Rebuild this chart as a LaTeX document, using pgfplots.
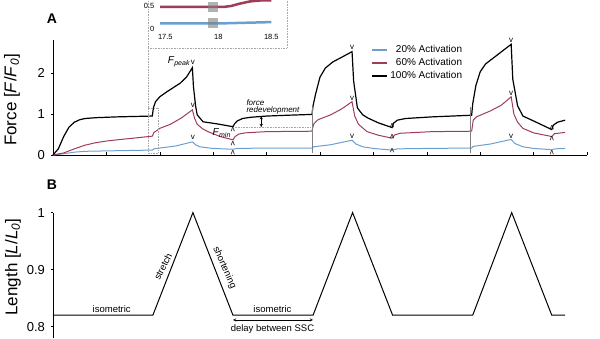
\documentclass[border=0pt]{standalone}
\usepackage{pgfplots}
\pgfplotsset{compat=1.18}
\usepackage{fontspec}
\setmainfont{Liberation Sans}
\definecolor{cblue}{HTML}{6C9FCF}
\definecolor{cred}{HTML}{9E3D58}
\definecolor{frm}{HTML}{A8A8A8}
\begin{document}
\begin{tikzpicture}
\path[use as bounding box] (0pt,0pt) rectangle (600pt,338pt);
\clip (0pt,0pt) rectangle (600pt,338pt);

% ---------------- Panel A ----------------
\begin{axis}[at={(53pt,183pt)}, anchor=south west, scale only axis,
  width=534pt, height=114.8pt, xmin=0, xmax=100, ymin=0, ymax=2.8,
  axis lines=left, axis line style={-, line width=0.8pt},
  xtick={0,10,...,100}, xticklabels={}, ytick={0,1,2},
  tick align=outside, major tick length=2.5pt,
  tick style={line width=0.6pt, black},
  xtick style={yshift=2.5pt},
  yticklabel style={font=\fontsize{13}{13}\selectfont, xshift=-2pt},
  /pgf/number format/assume math mode=true, clip=false,
  legend style={at={(0.594,0.98)}, anchor=north west, draw=none, fill=none,
    font=\fontsize{10}{11}\selectfont, inner sep=1pt, row sep=0pt},
  legend cell align=right,
  legend image code/.code={\draw[#1, line width=2pt] (0pt,0pt) -- (15pt,0pt);}]

\addplot[cblue, line width=1pt] coordinates {
(0,0)(2,0.03)(4,0.07)(6,0.09)(10,0.1)(18.6,0.12)(18.9,0.15)(20,0.17)(23,0.22)(26.1,0.32)
(26.7,0.25)(27.5,0.2)(30,0.16)(33.7,0.14)(34.5,0.16)(40,0.17)(48.5,0.17)(48.8,0.2)(52,0.25)
(56,0.36)(56.7,0.27)(58,0.2)(60,0.16)(63.5,0.12)(64.5,0.15)(70,0.16)(78.4,0.17)(78.7,0.21)
(82,0.27)(85.8,0.38)(86.5,0.28)(88,0.2)(90,0.16)(93.4,0.13)(94,0.15)(95.9,0.16)};
\addlegendentry{20\% Activation}

\addplot[cred, line width=1pt] coordinates {
(0,0)(2,0.05)(4,0.15)(6,0.24)(8,0.3)(10,0.34)(12,0.37)(15,0.41)(18.6,0.46)(18.9,0.55)
(19.5,0.6)(20,0.65)(22,0.75)(24,0.9)(26.1,1.1)(26.5,0.9)(27,0.75)(28,0.64)(29,0.57)(31.3,0.45)
(33.7,0.37)(34.1,0.45)(34.8,0.51)(36,0.54)(40,0.57)(48.5,0.58)(48.8,0.75)(49.5,0.85)(50,0.88)
(52,0.98)(54,1.12)(56,1.3)(56.5,0.95)(57.2,0.75)(58.8,0.57)(61,0.48)(63.5,0.41)(64,0.49)
(65,0.53)(71,0.57)(78.4,0.58)(78.7,0.85)(79.3,0.93)(80,0.97)(82,1.08)(84,1.22)(85.8,1.42)
(86.3,1.0)(87,0.8)(88,0.65)(90,0.54)(93.4,0.45)(93.9,0.52)(95.9,0.55)};
\addlegendentry{60\% Activation}

\addplot[black, line width=1.2pt] coordinates {
(0,0)(1,0.15)(2,0.45)(3,0.68)(4,0.8)(5,0.86)(6,0.89)(8,0.91)(12,0.93)(18.6,0.95)(18.8,1.15)
(19.2,1.3)(20,1.42)(21.3,1.54)(23.8,1.75)(25,1.9)(26.1,2.13)(26.3,1.67)(26.7,1.2)(27,0.98)
(28.1,0.81)(30.7,0.76)(33.7,0.69)(34,0.76)(34.5,0.83)(35.5,0.89)(37,0.92)(40,0.95)(44,0.97)
(48.5,0.99)(48.7,1.2)(49.2,1.5)(50,1.9)(51,2.12)(52.4,2.27)(54,2.38)(56,2.52)(56.3,1.8)
(57,1.15)(58,0.98)(59,0.9)(61,0.78)(63.5,0.67)(63.8,0.78)(64.5,0.85)(66,0.89)(71,0.93)
(78.4,0.97)(78.6,1.25)(79.2,1.7)(80,2.03)(81,2.22)(82.4,2.36)(84,2.52)(85.8,2.7)(86.1,1.85)
(87,1.2)(88,0.95)(90,0.83)(93.4,0.62)(93.7,0.73)(94.5,0.8)(95.9,0.85)};
\addlegendentry{100\% Activation}

% peak / min markers
\begin{scope}[every node/.style={font=\fontsize{8}{8}\selectfont, inner sep=0pt}]
\node at (axis cs:26.2,2.27) {v};
\node at (axis cs:56.0,2.63) {v};
\node at (axis cs:85.8,2.80) {v};
\node at (axis cs:26.2,1.20) {v};
\node at (axis cs:56.0,1.39) {v};
\node at (axis cs:85.8,1.51) {v};
\node at (axis cs:26.2,0.44) {v};
\node at (axis cs:56.0,0.46) {v};
\node at (axis cs:85.8,0.46) {v};
\node[rotate=180] at (axis cs:33.7,0.61) {v};
\node[rotate=180] at (axis cs:63.5,0.71) {v};
\node[rotate=180] at (axis cs:93.4,0.66) {v};
\node[rotate=180] at (axis cs:33.7,0.27) {v};
\node[rotate=180] at (axis cs:63.5,0.44) {v};
\node[rotate=180] at (axis cs:93.4,0.41) {v};
\node[rotate=180] at (axis cs:33.7,0.05) {v};
\node[rotate=180] at (axis cs:63.5,0.10) {v};
\node[rotate=180] at (axis cs:93.4,0.07) {v};
\end{scope}

\node[font=\fontsize{10}{10}\selectfont] at (axis cs:23.6,2.27) {\textit{F}\textsubscript{\textit{peak}}};
\node[font=\fontsize{10}{10}\selectfont] at (axis cs:31.6,0.54) {\textit{F}\textsubscript{\textit{min}}};
\node[font=\fontsize{8}{7}\selectfont\itshape, anchor=west, align=left, inner sep=0pt] at (axis cs:36.2,1.18) {force\\redevelopment};
\draw[<->, >=stealth, line width=0.5pt] (axis cs:39,0.95) -- (axis cs:39,0.68);
\draw[frm, densely dotted, line width=0.6pt] (axis cs:33.7,0.675) -- (axis cs:48.3,0.675);

% stretch onset markers
\draw[gray, line width=0.6pt] (axis cs:48.5,1.17) -- (axis cs:48.5,0.05);
\draw[gray, line width=0.6pt] (axis cs:78.1,1.17) -- (axis cs:78.1,0.05);
\draw[frm, densely dotted, line width=0.6pt] (axis cs:17.8,1.15) rectangle (axis cs:19.7,0.05);
\end{axis}

% inset frame and connector
\fill[white] (148pt,290pt) rectangle (287pt,345pt);
\draw[frm, densely dotted, line width=0.6pt] (148pt,290pt) rectangle (287pt,345pt);
\draw[frm, densely dotted, line width=0.6pt] (148pt,290pt) -- (148pt,230pt);

% inset
\begin{axis}[at={(160pt,309pt)}, anchor=south west, scale only axis,
  width=111.3pt, height=32.2pt, xmin=17.45, xmax=18.5, ymin=0, ymax=0.7,
  axis lines=left, axis line style={draw=none}, tick style={draw=none},
  xtick={17.5,18,18.5}, ytick={0,0.5},
  xticklabels={17.5,18,18.5}, yticklabels={0,0.5},
  ticklabel style={font=\fontsize{7.5}{7.5}\selectfont},
  /pgf/number format/assume math mode=true, clip=false]
\addplot[cred, line width=2.5pt] coordinates {(17.45,0.48)(18.05,0.48)(18.12,0.5)(18.2,0.55)(18.3,0.6)(18.4,0.62)(18.5,0.62)};
\addplot[cblue, line width=2.5pt] coordinates {(17.45,0.12)(18.0,0.12)(18.5,0.15)};
\addplot[gray, opacity=0.6, line width=10pt] coordinates {(17.9,0.48)(17.995,0.48)};
\addplot[gray, opacity=0.6, line width=10pt] coordinates {(17.9,0.13)(17.995,0.13)};
\end{axis}

% ---------------- Panel B ----------------
\begin{axis}[at={(53pt,0pt)}, anchor=south west, scale only axis,
  width=534pt, height=125.4pt, xmin=0, xmax=100, ymin=0.78, ymax=1.0,
  axis x line=none, axis y line=left, axis line style={-, line width=0.8pt},
  ytick={0.8,0.9,1}, yticklabels={0.8,0.9,1},
  tick align=outside, major tick length=2.5pt,
  tick style={line width=0.6pt, black},
  yticklabel style={font=\fontsize{13}{13}\selectfont, xshift=-2pt},
  /pgf/number format/assume math mode=true, clip=false]
\addplot[black, line width=1pt] coordinates {
(0,0.82)(18.7,0.82)(26.2,1.0)(33.7,0.82)(48.7,0.82)(56.1,1.0)(63.6,0.82)(78.6,0.82)(85.9,1.0)(93.4,0.82)(95.9,0.82)};
\begin{scope}[every node/.style={font=\fontsize{9.5}{9.5}\selectfont}]
\node at (axis cs:11.0,0.831) {isometric};
\node at (axis cs:41.1,0.831) {isometric};
\node[rotate=63, inner sep=0pt] at (axis cs:20.6,0.905) {stretch};
\node[rotate=-66, inner sep=0pt] at (axis cs:32.1,0.903) {shortening};
\node at (axis cs:41.1,0.796) {delay between SSC};
\end{scope}
\draw[<->, >=stealth, line width=0.5pt] (axis cs:33.7,0.8117) -- (axis cs:48.7,0.8117);
\end{axis}

% labels
\node[rotate=90, font=\fontsize{17}{17}\selectfont] at (12pt,238pt) {Force [\textit{F}/\textit{F}\textsubscript{\textit{0}}]};
\node[rotate=90, font=\fontsize{17}{17}\selectfont] at (13pt,71pt) {Length [\textit{L}/\textit{L}\textsubscript{\textit{0}}]};
\node[font=\fontsize{14}{14}\selectfont\bfseries] at (52pt,319pt) {A};
\node[font=\fontsize{14}{14}\selectfont\bfseries] at (52pt,153pt) {B};
\end{tikzpicture}
\end{document}
